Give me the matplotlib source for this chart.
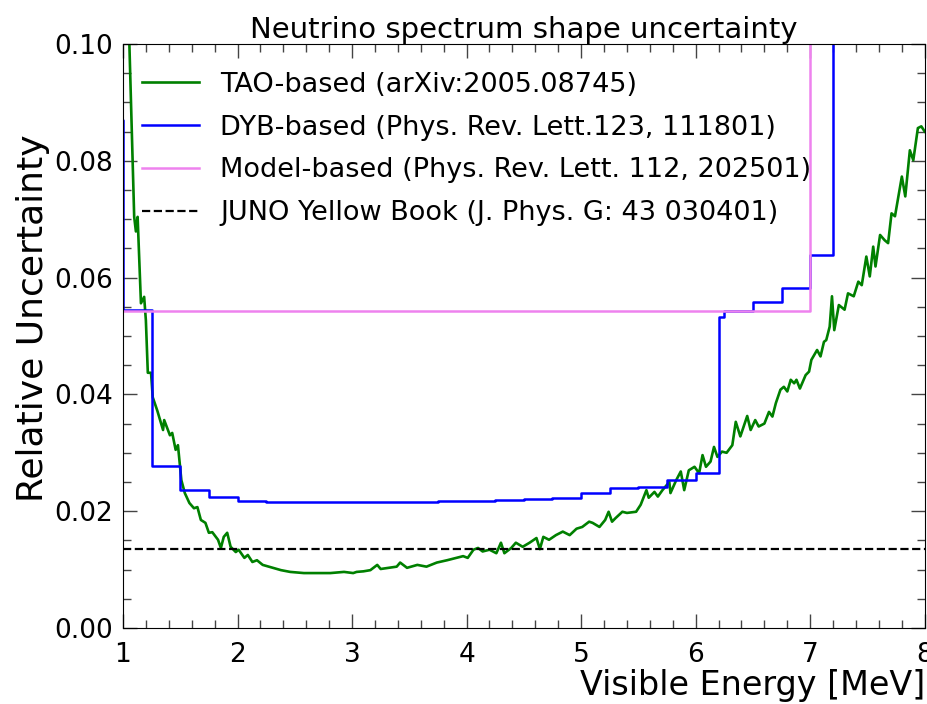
"""Neutrino spectrum shape uncertainty: TAO / DYB / model / Yellow Book."""
import matplotlib
matplotlib.use("Agg")
import matplotlib.pyplot as plt
from matplotlib.ticker import MultipleLocator

# TAO-based curve
tao_e = [1.04, 1.055, 1.098, 1.113, 1.128, 1.157, 1.185, 1.20, 1.217, 1.245,
         1.26, 1.30, 1.35, 1.36, 1.41, 1.43, 1.46, 1.48, 1.51, 1.54,
         1.58, 1.62, 1.65, 1.68, 1.72, 1.75, 1.78, 1.83, 1.855, 1.88,
         1.91, 1.94, 1.985, 2.01, 2.06, 2.09, 2.13, 2.17, 2.22, 2.29,
         2.38, 2.46, 2.58, 2.67, 2.81, 2.93, 3.01, 3.04, 3.10, 3.16,
         3.22, 3.25, 3.32, 3.39, 3.42, 3.48, 3.57, 3.65, 3.74, 3.83,
         3.91, 3.97, 4.01, 4.06, 4.10, 4.14, 4.20, 4.26, 4.30, 4.33,
         4.39, 4.43, 4.49, 4.55, 4.61, 4.64, 4.67, 4.72, 4.78, 4.84,
         4.90, 4.96, 5.01, 5.07, 5.10, 5.16, 5.21, 5.24, 5.27, 5.30,
         5.36, 5.40, 5.48, 5.52, 5.57, 5.59, 5.64, 5.67, 5.71, 5.77,
         5.78, 5.83, 5.87, 5.90, 5.94, 5.99, 6.03, 6.06, 6.09, 6.13,
         6.16, 6.19, 6.23, 6.27, 6.32, 6.35, 6.39, 6.45, 6.48, 6.52,
         6.55, 6.60, 6.64, 6.67, 6.70, 6.74, 6.77, 6.80, 6.83, 6.86,
         6.88, 6.91, 6.96, 6.99, 7.01, 7.06, 7.09, 7.12, 7.14, 7.17,
         7.19, 7.21, 7.25, 7.30, 7.33, 7.38, 7.42, 7.45, 7.49, 7.52,
         7.55, 7.57, 7.61, 7.65, 7.68, 7.71, 7.74, 7.80, 7.83, 7.87,
         7.90, 7.94, 7.97, 8.0]
tao_unc = [0.106, 0.1007, 0.0704, 0.0679, 0.0704, 0.0556, 0.0567, 0.0527, 0.0437, 0.0437,
           0.0395, 0.0372, 0.0339, 0.0356, 0.0330, 0.0334, 0.0305, 0.0313, 0.0253, 0.0231,
           0.0214, 0.0205, 0.0207, 0.0185, 0.0180, 0.0163, 0.0164, 0.0151, 0.0137, 0.0156,
           0.0163, 0.0139, 0.0130, 0.0134, 0.0120, 0.0125, 0.0113, 0.0116, 0.0108, 0.0104,
           0.0099, 0.0096, 0.0094, 0.0094, 0.0094, 0.0096, 0.0094, 0.0096, 0.0097, 0.0099,
           0.0108, 0.0101, 0.0103, 0.0105, 0.0112, 0.0103, 0.0108, 0.0105, 0.0112, 0.0116,
           0.0120, 0.0123, 0.0120, 0.0134, 0.0137, 0.0131, 0.0134, 0.0128, 0.0146, 0.0128,
           0.0137, 0.0146, 0.0139, 0.0146, 0.0154, 0.0135, 0.0156, 0.0151, 0.0159, 0.0165,
           0.0159, 0.0170, 0.0173, 0.0182, 0.0180, 0.0173, 0.0185, 0.0199, 0.0182, 0.0188,
           0.0199, 0.0197, 0.0199, 0.0211, 0.0236, 0.0223, 0.0233, 0.0225, 0.0236, 0.0250,
           0.0231, 0.0253, 0.0268, 0.0236, 0.0270, 0.0276, 0.0265, 0.0296, 0.0276, 0.0285,
           0.0310, 0.0293, 0.0302, 0.0300, 0.0313, 0.0353, 0.0328, 0.0363, 0.0339, 0.0356,
           0.0345, 0.0350, 0.0370, 0.0362, 0.0385, 0.0408, 0.0413, 0.0405, 0.0425, 0.0419,
           0.0425, 0.0410, 0.0433, 0.0439, 0.0459, 0.0476, 0.0465, 0.0490, 0.0493, 0.0516,
           0.0568, 0.0510, 0.0553, 0.0545, 0.0573, 0.0568, 0.0593, 0.0587, 0.0636, 0.0602,
           0.0653, 0.0619, 0.0673, 0.0664, 0.0659, 0.0710, 0.0705, 0.0773, 0.0739, 0.0818,
           0.0801, 0.0856, 0.0859, 0.0850]

# DYB-based binned uncertainty (bin left edges + value, step "post")
dyb_edges = [0.75, 1.0, 1.25, 1.5, 1.75, 2.0, 2.25, 2.5, 2.75, 3.0,
             3.25, 3.5, 3.75, 4.0, 4.25, 4.5, 4.75, 5.0, 5.25, 5.5,
             5.75, 6.0, 6.2, 6.25, 6.5, 6.75, 7.0, 7.2, 8.2]
dyb_unc = [0.087, 0.0545, 0.0277, 0.0237, 0.0224, 0.0218, 0.0216, 0.0215, 0.0215, 0.0215,
           0.0216, 0.0216, 0.0217, 0.0218, 0.0219, 0.0221, 0.0223, 0.0231, 0.0239, 0.0242,
           0.0253, 0.0265, 0.0533, 0.0543, 0.0558, 0.0582, 0.0639, 0.12, 0.12]

# model-based
model_edges = [0.75, 7.0, 8.2]
model_unc = [0.0542, 0.12, 0.12]

yb_unc = 0.0135

labels = ["TAO-based (arXiv:2005.08745)",
          "DYB-based (Phys. Rev. Lett.123, 111801)",
          "Model-based (Phys. Rev. Lett. 112, 202501)",
          "JUNO Yellow Book (J. Phys. G: 43 030401)"]


def main():
    fig = plt.figure(figsize=(9.28, 7.04), dpi=100)
    ax = fig.add_axes([0.1325, 0.108, 0.864, 0.8295])

    ax.plot(tao_e, tao_unc, color="green", lw=1.9, label=labels[0])
    ax.step(dyb_edges, dyb_unc, where="post", color="blue", lw=1.8, label=labels[1])
    ax.step(model_edges, model_unc, where="post", color="violet", lw=1.8, label=labels[2])
    ax.axhline(yb_unc, color="black", ls="--", lw=1.6, label=labels[3])

    ax.set_xlim(1, 8)
    ax.set_ylim(0, 0.1)
    ax.xaxis.set_major_locator(MultipleLocator(1))
    ax.xaxis.set_minor_locator(MultipleLocator(0.2))
    ax.yaxis.set_major_locator(MultipleLocator(0.02))
    ax.yaxis.set_minor_locator(MultipleLocator(0.005))
    ax.yaxis.set_major_formatter(plt.FormatStrFormatter("%.2f"))
    ax.tick_params(which="both", direction="in", top=True, right=True,
                   labelsize=19, color="#444444")
    ax.tick_params(axis="x", pad=10)
    ax.tick_params(axis="y", pad=7)
    ax.tick_params(which="major", length=10, width=1)
    ax.tick_params(which="minor", length=6, width=1)

    ax.set_title("Neutrino spectrum shape uncertainty", fontsize=21, pad=3)
    ax.set_xlabel("Visible Energy [MeV]", fontsize=24, loc="right", labelpad=1)
    ax.set_ylabel("Relative Uncertainty", fontsize=26, labelpad=3, y=0.53)

    ax.legend(loc="upper left", fontsize=19.5, frameon=False, labelspacing=0.62,
              handlelength=2.1, handletextpad=0.8, borderaxespad=0.3,
              bbox_to_anchor=(0.0, 0.985))

    fig.savefig("out.png", dpi=100)


if __name__ == "__main__":
    main()
